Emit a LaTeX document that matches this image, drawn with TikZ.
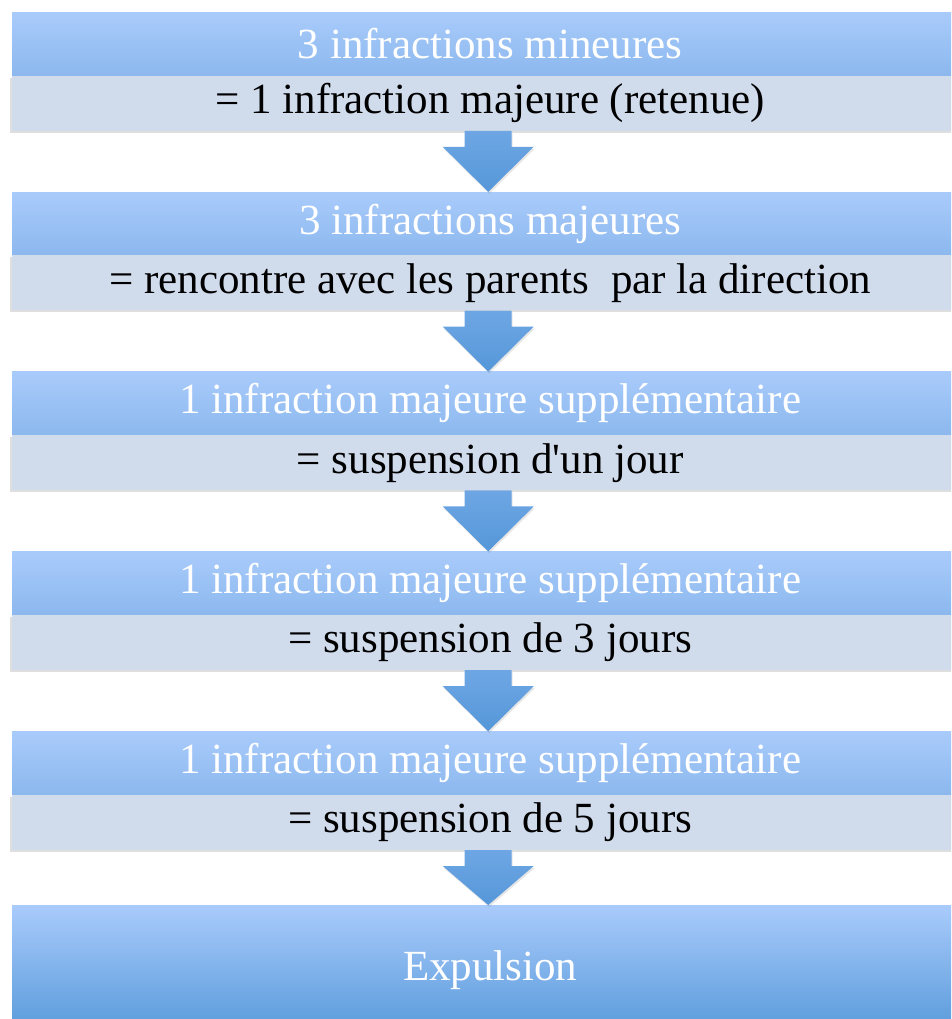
\documentclass[tikz,border=0pt]{standalone}
\usepackage{fontspec}
\setmainfont{Liberation Serif}[Ligatures=TeXOff]
\usepackage{xcolor}
\usepackage{tikz}
\usetikzlibrary{positioning, calc, shadows}

\definecolor{headtop}{HTML}{A9CBFB}
\definecolor{headbot}{HTML}{8CB8EE}
\definecolor{bandfill}{HTML}{D0DBEC}
\definecolor{lastbot}{HTML}{5799DA}
\definecolor{arrowtop}{HTML}{6EA6E4}
\definecolor{arrowbot}{HTML}{5597D9}

\tikzset{
	stagebox/.style={rectangle, inner sep=0pt, minimum width=956pt, font=\fontsize{43}{50}\selectfont}, % common to every box
	stagehead/.style={stagebox, minimum height=63pt, top color=headtop, bottom color=headbot, text=white}, % blue title band
	stageband/.style={stagebox, minimum height=55pt, fill=bandfill, text=black,
		drop shadow={shadow xshift=-2pt, shadow yshift=-2pt, opacity=0.25}}, % grey result band
	lastbox/.style={stagebox, minimum height=130pt, top color=headtop, bottom color=lastbot, text=white}, % final box
	stepdown/.style={top color=arrowtop, bottom color=arrowbot, drop shadow={shadow xshift=1pt, shadow yshift=-2pt, opacity=0.2}}, % arrow shape
}

\begin{document}
\begin{tikzpicture}[x=1pt, y=1pt, node distance=0pt]
	\useasboundingbox (0,0) rectangle (951,-1019);
	\clip (0,0) rectangle (951,-1019);
	
	% Stages
	\node[stagehead, anchor=north west] (head1) at (12,-12) {3 infractions mineures};
	\node[stageband, below=0pt of head1] (band1) {= 1 infraction majeure (retenue)};
	
	\node[stagehead, below=61pt of band1] (head2) {3 infractions majeures};
	\node[stageband, below=0pt of head2] (band2) {= rencontre avec les parents\ \ par la direction};
	
	\node[stagehead, below=61pt of band2] (head3) {1 infraction majeure supplémentaire};
	\node[stageband, below=0pt of head3] (band3) {= suspension d'un jour};
	
	\node[stagehead, below=61pt of band3] (head4) {1 infraction majeure supplémentaire};
	\node[stageband, below=0pt of head4] (band4) {= suspension de 3 jours};
	
	\node[stagehead, below=61pt of band4] (head5) {1 infraction majeure supplémentaire};
	\node[stageband, below=0pt of head5] (band5) {= suspension de 5 jours};
	
	\node[lastbox, below=55pt of band5] (last) {Expulsion};
	
	% Arrows
	\foreach \a/\b in {band1/head2, band2/head3, band3/head4, band4/head5, band5/last}
		\shade[stepdown] ($(\a.south)+(-25.5,0)$) -- ($(\a.south)+(21.5,0)$)
			-- ($(\a.south)+(21.5,-16)$) -- ($(\a.south)+(43.5,-16)$)
			-- ($(\b.north)+(-2,0)$)
			-- ($(\a.south)+(-47.5,-16)$) -- ($(\a.south)+(-25.5,-16)$) -- cycle;
\end{tikzpicture}
\end{document}
